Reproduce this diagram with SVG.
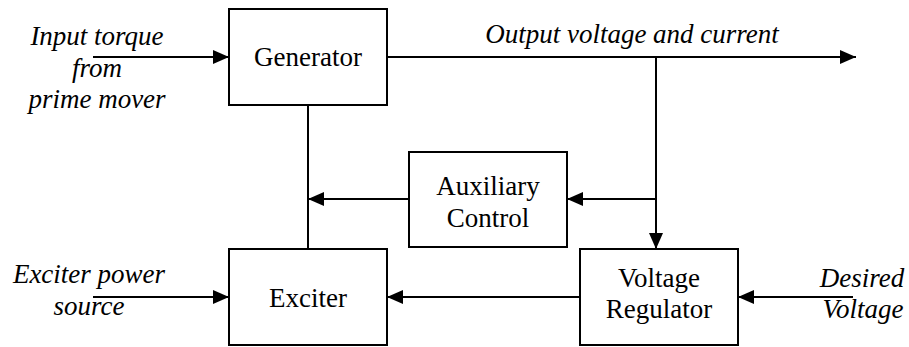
<svg xmlns="http://www.w3.org/2000/svg" width="909" height="347" viewBox="0 0 909 347">
<style>
.box{fill:#fff;stroke:#000;stroke-width:2}
.ln{fill:none;stroke:#000;stroke-width:2}
text{font-family:'Liberation Serif','DejaVu Serif',serif;font-size:27px;fill:#000;text-anchor:middle}
.i{font-style:italic}
</style>
<defs>
<marker id="ah" markerUnits="userSpaceOnUse" markerWidth="16" markerHeight="14" refX="16" refY="7" orient="auto">
<path d="M0,0 L16,7 L0,14 Z" fill="#000"/>
</marker>
</defs>
<g id="connectors">
<line class="ln" x1="93" y1="57" x2="229" y2="57" marker-end="url(#ah)"/>
<line class="ln" x1="387" y1="57" x2="856" y2="57" marker-end="url(#ah)"/>
<line class="ln" x1="656" y1="57" x2="656" y2="249" marker-end="url(#ah)"/>
<line class="ln" x1="656" y1="199" x2="567" y2="199" marker-end="url(#ah)"/>
<line class="ln" x1="409" y1="199" x2="308" y2="199" marker-end="url(#ah)"/>
<line class="ln" x1="308" y1="105" x2="308" y2="249"/>
<line class="ln" x1="93" y1="297" x2="229" y2="297" marker-end="url(#ah)"/>
<line class="ln" x1="580" y1="297" x2="387" y2="297" marker-end="url(#ah)"/>
<line class="ln" x1="853" y1="297" x2="738" y2="297" marker-end="url(#ah)"/>
</g>
<g id="generator">
<rect class="box" x="229" y="9" width="158" height="96"/>
<text x="308" y="66" font-family="Liberation Serif, serif">Generator</text>
</g>
<g id="auxiliary">
<rect class="box" x="409" y="152" width="158" height="95"/>
<text x="488" y="195">Auxiliary</text>
<text x="488" y="227">Control</text>
</g>
<g id="exciter">
<rect class="box" x="229" y="249" width="158" height="96"/>
<text x="308" y="307">Exciter</text>
</g>
<g id="regulator">
<rect class="box" x="580" y="249" width="158" height="96"/>
<text x="659" y="287">Voltage</text>
<text x="659" y="318">Regulator</text>
</g>
<g id="labels">
<text class="i" x="97" y="45">Input torque</text>
<text class="i" x="97" y="77">from</text>
<text class="i" x="97" y="108">prime mover</text>
<text class="i" x="632" y="43">Output voltage and current</text>
<text class="i" x="89" y="283">Exciter power</text>
<text class="i" x="89" y="315">source</text>
<text class="i" x="862" y="287">Desired</text>
<text class="i" x="863" y="318">Voltage</text>
</g>
</svg>
